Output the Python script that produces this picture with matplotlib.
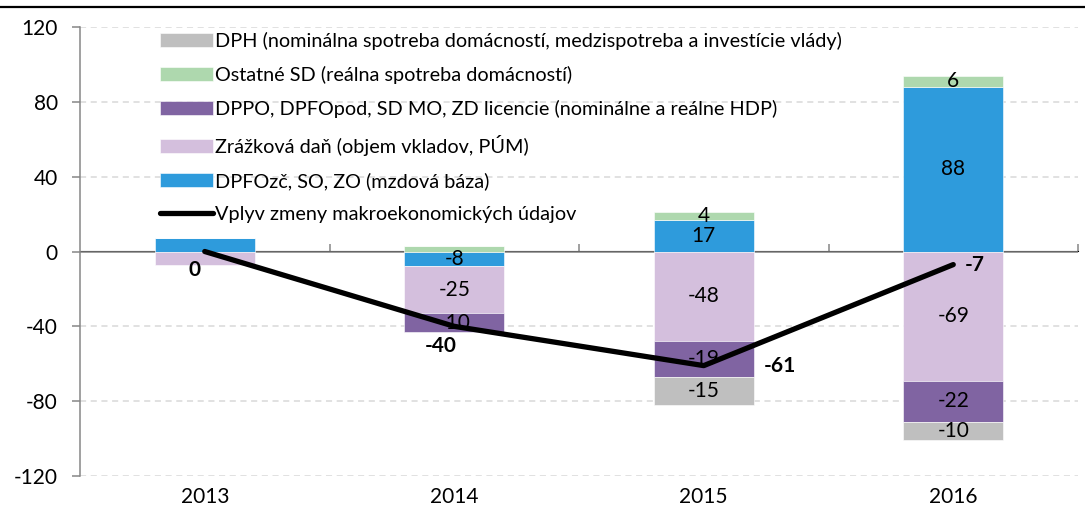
import matplotlib
matplotlib.use("Agg")
import matplotlib.pyplot as plt
from matplotlib.lines import Line2D
import numpy as np

plt.rcParams['font.family'] = ['Lato', 'DejaVu Sans']

years = ["2013", "2014", "2015", "2016"]

# series (bottom of stack first)
dpfo = [7, -8, 17, 88]
zrazkova = [-7, -25, -48, -69]
dppo = [0, -10, -19, -22]
ostatne = [0, 3, 4, 6]
dph = [0, 0, -15, -10]
vplyv = [0, -40, -61, -7]

# which segment labels are shown
labels_dpfo = [None, "-8", "17", "88"]
labels_zrazkova = [None, "-25", "-48", "-69"]
labels_dppo = [None, "-10", "-19", "-22"]
labels_ostatne = [None, None, "4", "6"]
labels_dph = [None, None, "-15", "-10"]

names = [
    "DPFOzč, SO, ZO (mzdová báza)",
    "Zrážková daň (objem vkladov, PÚM)",
    "DPPO, DPFOpod, SD MO, ZD licencie (nominálne a reálne HDP)",
    "Ostatné SD (reálna spotreba domácností)",
    "DPH (nominálna spotreba domácností, medzispotreba a investície vlády)",
]
line_name = "Vplyv zmeny makroekonomických údajov"
colors = ["#2e9bdc", "#d4bfdd", "#8064a2", "#aed8ae", "#bfbfbf"]

series = [dpfo, zrazkova, dppo, ostatne, dph]
series_labels = [labels_dpfo, labels_zrazkova, labels_dppo, labels_ostatne, labels_dph]

fig = plt.figure(figsize=(10.85, 5.16), dpi=100)
ax = fig.add_axes([80/1085, 1-476/516, 998/1085, 449/516])

x = np.arange(len(years))
pos_base = np.zeros(len(years))
neg_base = np.zeros(len(years))
handles = []
FS = 15
LFS = 14.3
for vals, labs, col, nm in zip(series, series_labels, colors, names):
    vals = np.array(vals, dtype=float)
    bottoms = np.where(vals >= 0, pos_base, neg_base)
    b = ax.bar(x, vals, 0.4, bottom=bottoms, color=col, edgecolor="white",
               linewidth=0.4, zorder=2, label=nm)
    handles.append(b)
    for i, (v, lab) in enumerate(zip(vals, labs)):
        if lab is not None:
            ax.text(x[i], bottoms[i] + v / 2, lab, ha="center", va="center",
                    fontsize=FS, color="black", zorder=3)
    pos_base = pos_base + np.where(vals >= 0, vals, 0)
    neg_base = neg_base + np.where(vals < 0, vals, 0)

ln, = ax.plot(x, vplyv, color="black", lw=3.8, zorder=4, solid_capstyle="round",
              label=line_name)

offsets = [(-7.2, -13, "center"), (-10, -14.5, "center"), (43, 0, "left"), (8.6, 0, "left")]
for i, v in enumerate(vplyv):
    dx, dy, ha = offsets[i]
    ax.annotate(str(v), (x[i], v), xytext=(dx, dy), textcoords="offset points",
                ha=ha, va="center", fontsize=FS, fontweight="bold", zorder=5)

ax.set_xlim(-0.5, 3.5)
ax.set_ylim(-120, 120)
yt = [-120, -80, -40, 0, 40, 80, 120]
ax.set_yticks(yt)
ax.set_yticklabels([str(t) for t in yt])
for t in yt:
    if t != 0:
        ax.axhline(t, color="#d9d9d9", lw=1.1, ls=(0, (4, 3)), zorder=0)
ax.axhline(0, color="#868686", lw=1.1, zorder=1)

ax.set_xticks(x)
ax.set_xticklabels(years)
ax.tick_params(axis="x", length=0, pad=8, labelsize=FS)
ax.tick_params(axis="y", length=6, width=1.1, color="#868686", pad=10, labelsize=FS)
for s in ["top", "right", "bottom"]:
    ax.spines[s].set_visible(False)
ax.spines["left"].set_color("#868686")
ax.spines["left"].set_linewidth(1.1)

sec = ax.secondary_xaxis(0.5)
sec.set_xticks([0.5, 1.5, 2.5, 3.5])
sec.set_xticklabels([])
sec.spines["bottom"].set_visible(False)
sec.tick_params(axis="x", direction="out", length=5, width=1.1, color="#868686")

leg_handles = list(reversed(handles)) + [ln]
leg_labels = list(reversed(names)) + [line_name]
ax.legend(leg_handles, leg_labels, loc="upper left", bbox_to_anchor=(0.08, 0.99),
          frameon=False, fontsize=LFS, handlelength=2.66, handletextpad=0.1,
          labelspacing=0.82, borderaxespad=0, borderpad=0)

fig.add_artist(Line2D([0, 1], [1 - 6.5/516, 1 - 6.5/516], color="black", lw=1.6,
                      transform=fig.transFigure))

fig.savefig("out.png", dpi=100)
